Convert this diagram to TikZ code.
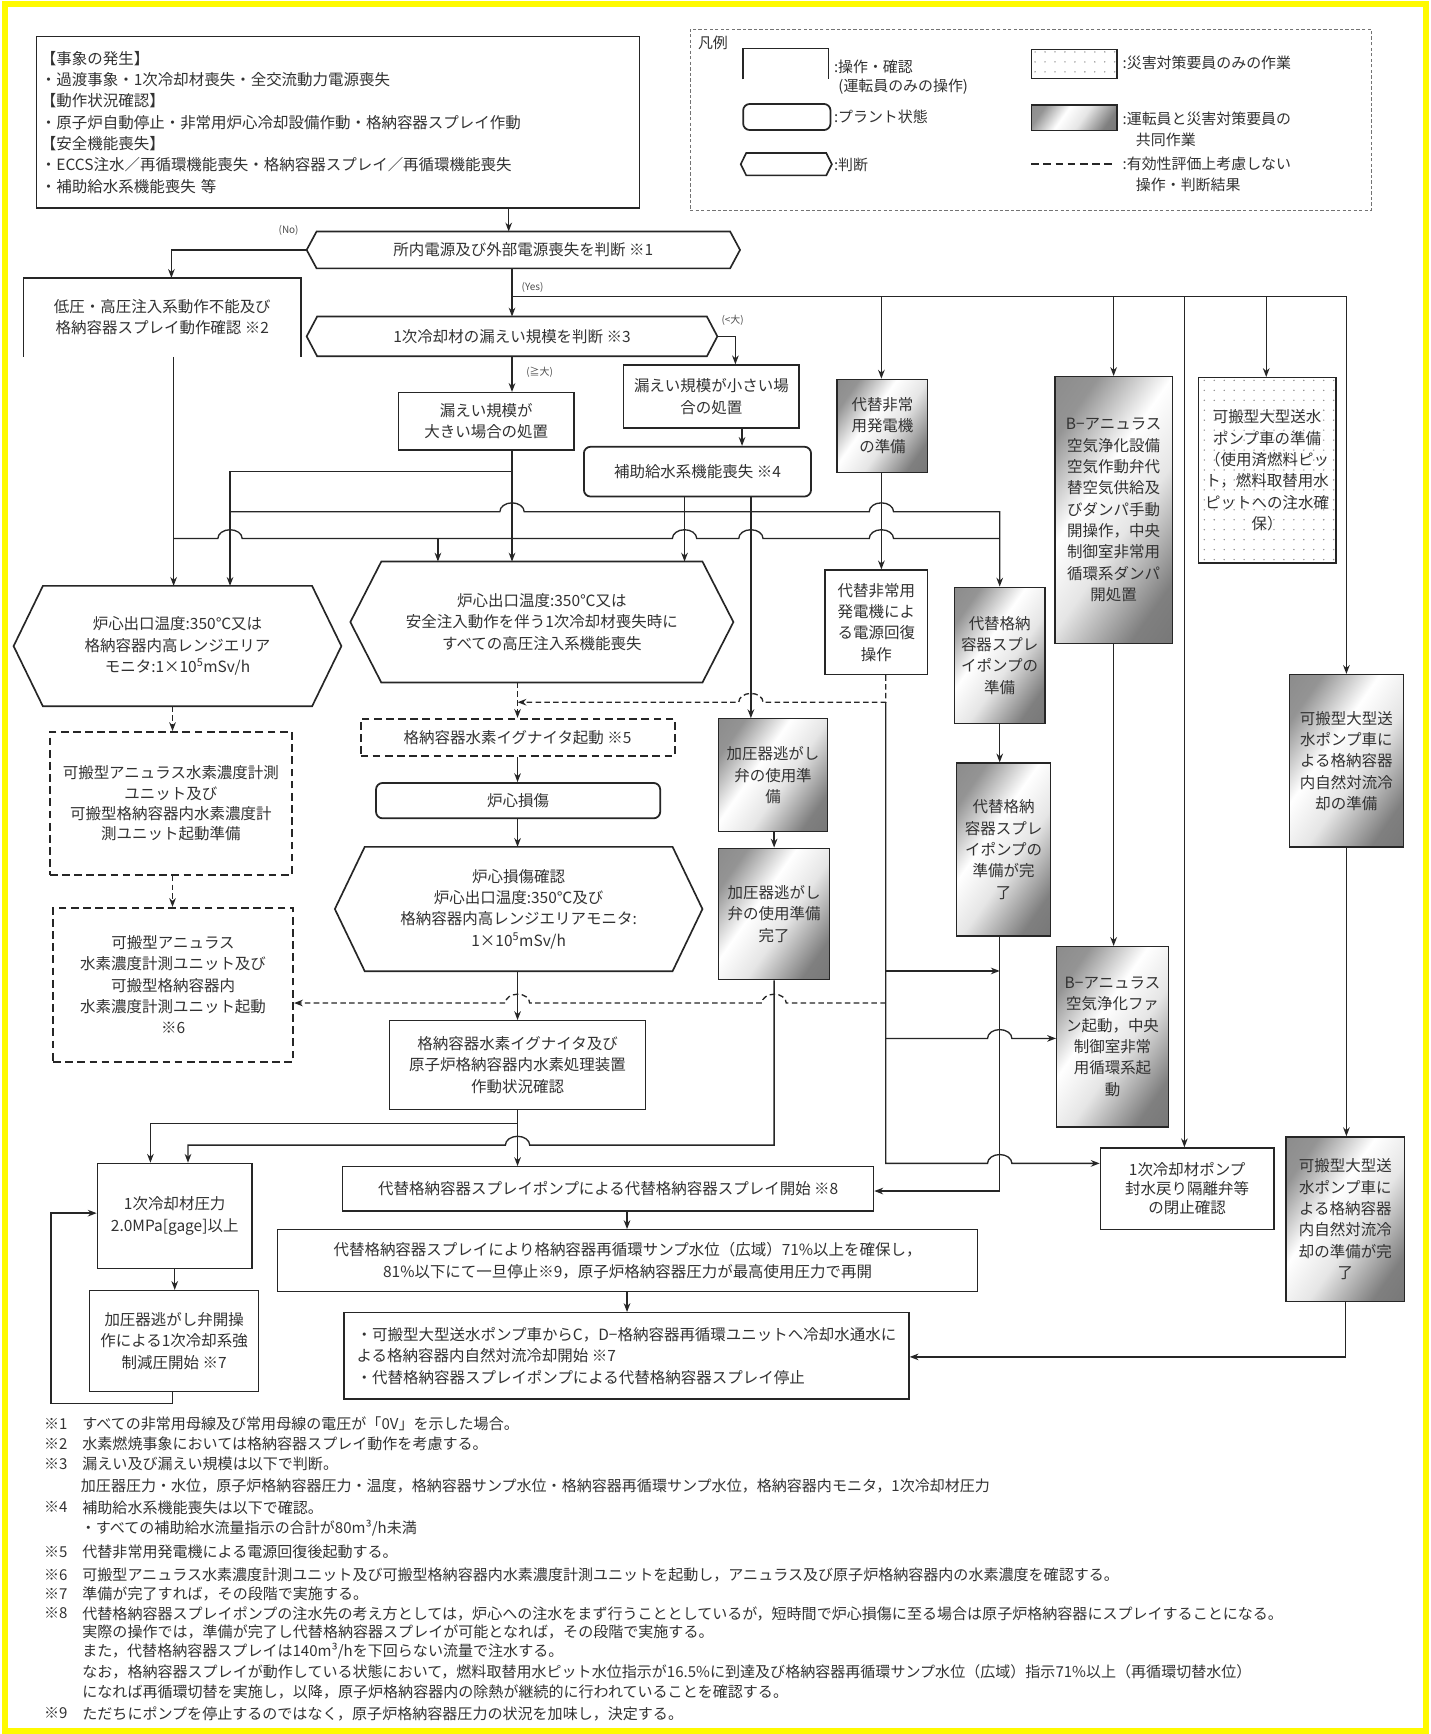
\documentclass[tikz,border=0pt]{standalone}
\usepackage{fontspec}
\setmainfont{Noto Sans CJK JP}
\usetikzlibrary{arrows.meta,patterns.meta,calc}
\definecolor{frameyellow}{RGB}{255,250,0}
\definecolor{ink}{RGB}{50,50,50}

% brushed-metal fill for joint-work boxes
\pgfdeclarehorizontalshading{metal}{100bp}{color(0bp)=(black!50); color(25bp)=(black!42);
  color(42bp)=(white); color(56bp)=(white!90!black); color(75bp)=(black!50); color(100bp)=(black!58)}

% bumps where a line hops over a crossing line
\newcommand\JR{arc[start angle=180,end angle=0,x radius=11pt,y radius=8pt]}
\newcommand\JL{arc[start angle=0,end angle=180,x radius=11pt,y radius=8pt]}

% decision node: name, x, y, body width, body height, point depth, text
\newcommand\hexnode[7]{%
  \node[minimum width=#4pt, minimum height=#5pt] (#1) at (#2,#3) {#7};
  \coordinate (#1-l) at ($(#1.west)+(-#6,0)$);
  \coordinate (#1-r) at ($(#1.east)+(#6,0)$);
  \draw[hexline] (#1.north west) -- (#1.north east) -- (#1-r) -- (#1.south east)
    -- (#1.south west) -- (#1-l) -- cycle;}

% operation box drawn without its lower edge
\newcommand\openbox[1]{%
  \draw[boxline] (#1.south west) -- (#1.north west) -- (#1.north east) -- (#1.south east);}

\begin{document}
\begin{tikzpicture}[x=1pt,y=-1pt,
  every node/.style={font=\fontsize{14pt}{19.3pt}\selectfont, text=ink, inner sep=0pt, align=center},
  boxline/.style={draw=black!85, line width=1.2pt},
  obox/.style={boxline},
  rbox/.style={draw=black!85, line width=1.6pt, rounded corners=6pt},
  dbox/.style={draw=black!85, line width=1.8pt, dash pattern=on 7pt off 4pt},
  gbox/.style={boxline, shade, shading=metal, shading angle=-35},
  pbox/.style={boxline, pattern={Dots[distance=9pt,radius=0.7pt]}, pattern color=black!45},
  hexline/.style={draw=black!85, line width=1.5pt},
  conn/.style={draw=black!85, line width=1.2pt},
  conna/.style={conn, -{Stealth[length=8pt,width=6pt]}},
  dconn/.style={conn, dash pattern=on 5pt off 3pt},
  dconna/.style={dconn, -{Stealth[length=8pt,width=6pt]}},
  lbl/.style={font=\fontsize{9pt}{11pt}\selectfont, text=black!70},
  notetext/.style={font=\fontsize{13.6pt}{16pt}\selectfont, anchor=west, text=black!80},
  legtext/.style={anchor=west, align=left, font=\fontsize{13.5pt}{16pt}\selectfont},
]
\useasboundingbox (0,0) rectangle (1294,1568);
\fill[white] (0,0) rectangle (1294,1568);
\draw[frameyellow, line width=5pt] (4.5,3.5) rectangle (1289.5,1565.5);

% ---------- header ----------
\node[obox, minimum width=545pt, minimum height=155pt, text width=537pt, align=left] (top) at (305.5,110.5)
  {【事象の発生】\\・過渡事象・1次冷却材喪失・全交流動力電源喪失\\【動作状況確認】\\・原子炉自動停止・非常用炉心冷却設備作動・格納容器スプレイ作動\\【安全機能喪失】\\・ECCS注水／再循環機能喪失・格納容器スプレイ／再循環機能喪失\\・補助給水系機能喪失 等};

% ---------- legend ----------
\node[draw=black!55, line width=0.8pt, dash pattern=on 3pt off 2pt, minimum width=616pt, minimum height=163.6pt] (leg) at (932,108.2) {};
\node[legtext] (legt) at (631,39) {凡例};
\node[minimum width=77pt, minimum height=27.5pt] (lg1) at (710.5,57.75) {};
\openbox{lg1}
\node[legtext] (lg1t) at (754,60) {:操作・確認};
\node[legtext] (lg1u) at (758,78) {(運転員のみの操作)};
\node[rbox, minimum width=79pt, minimum height=23.6pt] (lg2) at (711.5,105.8) {};
\node[legtext] (lg2t) at (754,105.5) {:プラント状態};
\hexnode{lg3}{711}{148.5}{72}{19.8}{5}{}
\node[legtext] (lg3t) at (754,149) {:判断};
\node[pbox, minimum width=77.5pt, minimum height=25.8pt] (lg4) at (971.25,57.9) {};
\node[legtext] (lg4t) at (1015,57) {:災害対策要員のみの作業};
\node[gbox, minimum width=77.5pt, minimum height=23pt] (lg5) at (971.25,106.5) {};
\node[legtext] (lg5t) at (1015,107.7) {:運転員と災害対策要員の};
\node[legtext] (lg5u) at (1027,126) {共同作業};
\coordinate (lg6a) at (932.5,148.3);
\coordinate (lg6b) at (1009,148.3);
\draw[conn, line width=1.8pt, dash pattern=on 7pt off 4pt] (lg6a) -- (lg6b);
\node[legtext] (lg6t) at (1015,148.3) {:有効性評価上考慮しない};
\node[legtext] (lg6u) at (1027,167) {操作・判断結果};

% ---------- flow nodes ----------
\hexnode{h1}{473.25}{226}{373.5}{33}{9}{所内電源及び外部電源喪失を判断 ※1}
\node[minimum width=250.4pt, minimum height=71pt] (lp) at (146.8,287) {低圧・高圧注入系動作不能及び\\格納容器スプレイ動作確認 ※2};
\openbox{lp}
\hexnode{h2}{463}{304.2}{352}{35.6}{9.5}{1次冷却材の漏えい規模を判断 ※3}
\node[obox, minimum width=158.6pt, minimum height=52pt] (lkL) at (439.7,381) {漏えい規模が\\大きい場合の処置};
\node[obox, minimum width=158.6pt, minimum height=57pt] (lkS) at (643.3,358.5) {漏えい規模が小さい場\\合の処置};
\node[rbox, minimum width=205.4pt, minimum height=45pt] (aux) at (630.7,426.5) {補助給水系機能喪失 ※4};
\node[gbox, minimum width=82pt, minimum height=84pt] (dg1) at (798,385) {代替非常\\用発電機\\の準備};
\node[gbox, minimum width=106pt, minimum height=241.4pt] (ba1) at (1007,461.3)
  {B−アニュラス\\空気浄化設備\\空気作動弁代\\替空気供給及\\びダンパ手動\\開操作，中央\\制御室非常用\\循環系ダンパ\\開処置};
\node[pbox, minimum width=124.5pt, minimum height=167.5pt] (pp) at (1145.75,425.25)
  {可搬型大型送水\\ポンプ車の準備\\（使用済燃料ピッ\\ト，燃料取替用水\\ピットへの注水確\\保）};
\node[gbox, minimum width=103pt, minimum height=156pt] (nc1) at (1217.5,688)
  {可搬型大型送\\水ポンプ車に\\よる格納容器\\内自然対流冷\\却の準備};
\node[gbox, minimum width=107pt, minimum height=149pt] (nc2) at (1216.5,1102.5)
  {可搬型大型送\\水ポンプ車に\\よる格納容器\\内自然対流冷\\却の準備が完\\了};
\hexnode{h3}{160.5}{584.25}{243}{108.5}{26.5}{炉心出口温度:350℃又は\\格納容器内高レンジエリア\\モニタ:1×10\textsuperscript{5}mSv/h}
\hexnode{h4}{490}{562.5}{290}{109}{28}{炉心出口温度:350℃又は\\安全注入動作を伴う1次冷却材喪失時に\\すべての高圧注入系機能喪失}
\node[obox, minimum width=93pt, minimum height=94.5pt] (dg2) at (792.5,562.75) {代替非常用\\発電機によ\\る電源回復\\操作};
\node[gbox, minimum width=82pt, minimum height=123pt] (csp1) at (904,592.5) {代替格納\\容器スプレ\\イポンプの\\準備};
\node[dbox, minimum width=284pt, minimum height=34pt] (ign) at (468,667) {格納容器水素イグナイタ起動 ※5};
\node[dbox, minimum width=219pt, minimum height=129pt, font=\fontsize{14pt}{18.5pt}\selectfont] (hm1) at (154.5,726.5)
  {可搬型アニュラス水素濃度計測\\ユニット及び\\可搬型格納容器内水素濃度計\\測ユニット起動準備};
\node[rbox, minimum width=257pt, minimum height=32pt] (cd) at (468.5,724) {炉心損傷};
\node[gbox, minimum width=98pt, minimum height=102pt] (prv1) at (699,701) {加圧器逃がし\\弁の使用準\\備};
\node[gbox, minimum width=100pt, minimum height=119pt] (prv2) at (700,826.5) {加圧器逃がし\\弁の使用準備\\完了};
\node[gbox, minimum width=85pt, minimum height=156.5pt] (csp2) at (907.5,768.25) {代替格納\\容器スプレ\\イポンプの\\準備が完\\了};
\hexnode{h5}{469}{822}{278}{112}{27}{炉心損傷確認\\炉心出口温度:350℃及び\\格納容器内高レンジエリアモニタ:\\1×10\textsuperscript{5}mSv/h}
\node[dbox, minimum width=217pt, minimum height=139pt] (hm2) at (156.5,890.5)
  {可搬型アニュラス\\水素濃度計測ユニット及び\\可搬型格納容器内\\水素濃度計測ユニット起動\\※6};
\node[gbox, minimum width=101pt, minimum height=163pt] (ba2) at (1006,937.5)
  {B−アニュラス\\空気浄化ファ\\ン起動，中央\\制御室非常\\用循環系起\\動};
\node[obox, minimum width=232pt, minimum height=80pt] (hc) at (468,963)
  {格納容器水素イグナイタ及び\\原子炉格納容器内水素処理装置\\作動状況確認};
\node[obox, minimum width=140pt, minimum height=95pt] (rcp) at (158,1099.5) {1次冷却材圧力\\2.0MPa[gage]以上};
\node[obox, minimum width=480pt, minimum height=40pt] (sp8) at (550,1075) {代替格納容器スプレイポンプによる代替格納容器スプレイ開始 ※8};
\node[obox, minimum width=157pt, minimum height=74pt, font=\fontsize{14pt}{17pt}\selectfont] (rcs) at (1073.5,1075)
  {1次冷却材ポンプ\\封水戻り隔離弁等\\の閉止確認};
\node[obox, minimum width=633pt, minimum height=56pt] (sp9) at (567.5,1140)
  {代替格納容器スプレイにより格納容器再循環サンプ水位（広域）71\%以上を確保し，\\81\%以下にて一旦停止※9，原子炉格納容器圧力が最高使用圧力で再開};
\node[obox, minimum width=153pt, minimum height=91pt] (dep) at (157.5,1212.5) {加圧器逃がし弁開操\\作による1次冷却系強\\制減圧開始 ※7};
\node[obox, minimum width=511pt, minimum height=78pt, align=left] (nat) at (566.5,1226)
  {・可搬型大型送水ポンプ車からC，D−格納容器再循環ユニットへ冷却水通水に\\よる格納容器内自然対流冷却開始 ※7\\・代替格納容器スプレイポンプによる代替格納容器スプレイ停止};

% branch labels
\node[lbl] (lno) at (261,208) {(No)};
\node[lbl] (lyes) at (481.6,259.7) {(Yes)};
\node[lbl] (lsmall) at (662.5,289.5) {(<大)};
\node[lbl] (llarge) at (488,336.5) {(≧大)};

% ---------- lanes ----------
\foreach \x in {136,155,156,157,158,170,208,396,460,463,468,567,619,665,671,679,700,797,801,904,1071,1145}
  {\coordinate (L\x) at (\x,0);}
\foreach \y in {878,907,939,1052,1077,1097,1227}
  {\coordinate (Y\y) at (0,\y);}

% ---------- connectors ----------
\draw[conna] (top.south -| L460) -- (h1.north -| L460);
\draw[conna] (h1-l) -| (L155 |- lp.north);
\draw[conna] (h1.south -| L463) -- (h2.north -| L463);
% (Yes) bus
\draw[conna] (463,268) -| (nc1.north);
\draw[conna] (797,268) -- (dg1.north -| L797);
\draw[conna] (1007,268) -- (ba1.north);
\draw[conna] (1071,268) -- (rcs.north -| L1071);
\draw[conna] (1145,268) -- (pp.north -| L1145);
% leak size
\draw[conna] (h2-r) -| (lkS.north -| L665);
\draw[conna] (h2.south -| L463) -- (lkL.north -| L463);
\draw[conna] (lkS.south -| L671) -- (aux.north -| L671);
\draw[conna] (lkL.south -| L463) -- (h4.north -| L463);
\draw[conna] (463,426.5) -| (h3.north -| L208);
\draw[conna] (lp.south -| L157) -- (h3.north -| L157);
\draw[conn] (157,487) -- (197,487) \JR -- (608,487) \JR -- (668,487) \JR -- (786,487) \JR -- (904,487);
\draw[conna] (396,487) -- (h4.north -| L396);
\draw[conna] (aux.south -| L619) -- (h4.north -| L619);
\draw[conna] (208,462.7) -- (452,462.7) \JR -- (786,462.7) \JR -- (904,462.7) -- (csp1.north -| L904);
\draw[conna] (aux.south -| L679) -- (prv1.north -| L679);
\draw[conna] (dg1.south -| L797) -- (dg2.north -| L797);
% core damage path
\draw[dconna] (h4.south -| L468) -- (ign.north -| L468);
\draw[dconna] (dg2.south -| L801) -- (801,635) -- (690,635) \JL -- (468,635);
\draw[conna] (ign.south -| L468) -- (cd.north -| L468);
\draw[conna] (cd.south -| L468) -- (h5.north -| L468);
\draw[conna] (h5.south -| L468) -- (hc.north -| L468);
\draw[dconna] (h3.south -| L156) -- (hm1.north -| L156);
\draw[dconna] (hm1.south -| L156) -- (hm2.north -| L156);
\draw[conna] (prv1.south -| L700) -- (prv2.north -| L700);
\draw[conna] (csp1.south -| L904) -- (csp2.north -| L904);
\draw[conna] (ba1.south) -- (ba1.south |- ba2.north);
\draw[conna] (nc1.south) -- (nc1.south |- nc2.north);
% power recovery branches
\draw[conna] (801,635) -- (801,1052) -- (893,1052) \JR -- (rcs.west |- Y1052);
\draw[conna] (801,878) -- (L904 |- Y878);
\draw[conna] (801,939) -- (893,939) \JR -- (ba2.west |- Y939);
\draw[dconna] (801,907) -- (711,907) \JL -- (479,907) \JL -- (hm2.east |- Y907);
\draw[conna] (csp2.south -| L904) |- (sp8.east |- Y1077);
% depressurisation and spray
\draw[conna] (prv2.south -| L700) -- (700,1035.5) -- (479,1035.5) \JL -- (170,1035.5) -- (rcp.north -| L170);
\draw[conna] (hc.south -| L468) -- (468,1016) -| (rcp.north -| L136);
\draw[conna] (468,1016) -- (sp8.north -| L468);
\draw[conna] (sp8.south -| L567) -- (sp9.north -| L567);
\draw[conna] (sp9.south -| L567) -- (nat.north -| L567);
\draw[conna] (rcp.south -| L158) -- (dep.north -| L158);
\draw[conna] (dep.south -| L156) -- (156,1269) -- (46,1269) -- (46,1097) -- (rcp.west |- Y1097);
\draw[conna] (nc2.south) |- (nat.east |- Y1227);

% ---------- notes ----------
\node[notetext] (n1) at (39.6,1287.8) {※1};
\node[notetext] (n1t) at (74.3,1287.8) {すべての非常用母線及び常用母線の電圧が「0V」を示した場合。};
\node[notetext] (n2) at (39.6,1305.3) {※2};
\node[notetext] (n2t) at (74.3,1305.3) {水素燃焼事象においては格納容器スプレイ動作を考慮する。};
\node[notetext] (n3) at (39.6,1324) {※3};
\node[notetext] (n3t) at (74.3,1324) {漏えい及び漏えい規模は以下で判断。};
\node[notetext] (n3u) at (73,1344) {加圧器圧力・水位，原子炉格納容器圧力・温度，格納容器サンプ水位・格納容器再循環サンプ水位，格納容器内モニタ，1次冷却材圧力};
\node[notetext] (n4) at (39.6,1363) {※4};
\node[notetext] (n4t) at (74.3,1363) {補助給水系機能喪失は以下で確認。};
\node[notetext] (n4u) at (73,1382) {・すべての補助給水流量指示の合計が80m³/h未満};
\node[notetext] (n5) at (39.6,1403) {※5};
\node[notetext] (n5t) at (74.3,1403) {代替非常用発電機による電源回復後起動する。};
\node[notetext] (n6) at (39.6,1424.3) {※6};
\node[notetext] (n6t) at (74.3,1424.3) {可搬型アニュラス水素濃度計測ユニット及び可搬型格納容器内水素濃度計測ユニットを起動し，アニュラス及び原子炉格納容器内の水素濃度を確認する。};
\node[notetext] (n7) at (39.6,1441) {※7};
\node[notetext] (n7t) at (74.3,1441) {準備が完了すれば，その段階で実施する。};
\node[notetext] (n8) at (39.6,1459) {※8};
\node[notetext] (n8t) at (74.3,1459) {代替格納容器スプレイポンプの注水先の考え方としては，炉心への注水をまず行うこととしているが，短時間で炉心損傷に至る場合は原子炉格納容器にスプレイすることになる。};
\node[notetext] (n8u) at (74.3,1475.6) {実際の操作では，準備が完了し代替格納容器スプレイが可能となれば，その段階で実施する。};
\node[notetext] (n8v) at (74.3,1492.8) {また，代替格納容器スプレイは140m³/hを下回らない流量で注水する。};
\node[notetext] (n8w) at (74.3,1511.8) {なお，格納容器スプレイが動作している状態において，燃料取替用水ピット水位指示が16.5\%に到達及び格納容器再循環サンプ水位（広域）指示71\%以上（再循環切替水位）};
\node[notetext] (n8x) at (74.3,1529.8) {になれば再循環切替を実施し，以降，原子炉格納容器内の除熱が継続的に行われていることを確認する。};
\node[notetext] (n9) at (39.6,1549.4) {※9};
\node[notetext] (n9t) at (74.3,1549.4) {ただちにポンプを停止するのではなく，原子炉格納容器圧力の状況を加味し，決定する。};
\end{tikzpicture}
\end{document}
